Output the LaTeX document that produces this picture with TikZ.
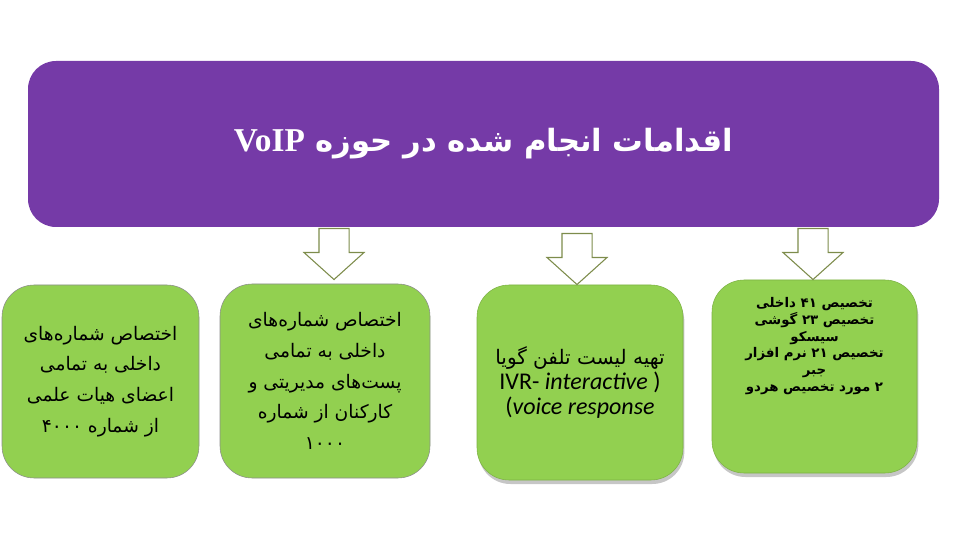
\documentclass[tikz,border=0pt]{standalone}
\usepackage{fontspec}
\setmainfont{Carlito}
\newfontfamily\arabicfont[Script=Arabic]{DejaVu Sans}
\newfontfamily\titlelatin{Liberation Serif}
\TeXXeTstate=1
\usetikzlibrary{shapes.arrows, shadows, positioning}
\definecolor{voippurple}{RGB}{117,58,167}
\definecolor{taskgreen}{RGB}{146,208,80}
\definecolor{arrowline}{RGB}{125,140,75}
\tikzstyle{heading} = [rectangle, rounded corners=21pt, minimum width=683.25pt, minimum height=124.5pt, fill=voippurple, text=white]
\tikzstyle{task} = [rectangle, rounded corners=24pt, fill=taskgreen, draw=gray!90, thin, align=center, inner sep=0pt]
\tikzstyle{shadowtask} = [task, draw=taskgreen!85!black, drop shadow={shadow xshift=1pt, shadow yshift=-3pt, opacity=0.45}]
\tikzstyle{blockarrow} = [single arrow, draw=arrowline, fill=white, thick, inner xsep=10.875pt, inner ysep=0pt, shape border rotate=270, minimum height=38.25pt, single arrow head extend=11.25pt, single arrow tip angle=96, single arrow head indent=0pt]

\begin{document}
\begin{tikzpicture}[x=0.75pt, y=-0.75pt]
        \useasboundingbox (0,0) rectangle (960,538);
        \node (title) [heading] at (483.5,144) {\arabicfont\bfseries\fontsize{23}{28}\selectfont\beginR اقدامات انجام شده در حوزه {\titlelatin\bfseries\fontsize{25}{28}\selectfont VoIP}\endR};

        \node (members) [task, minimum width=147.75pt, minimum height=144.75pt, font=\arabicfont\fontsize{14}{23}\selectfont] at (100.5,381.5)
            {\beginR اختصاص شماره‌های\endR\\ \beginR داخلی به تمامی\endR\\ \beginR اعضای هیات علمی\endR\\ \beginR از شماره \beginL ۴۰۰۰\endL\endR};
        \node (staff) [task, minimum width=157.5pt, minimum height=145.5pt, font=\arabicfont\fontsize{14}{23}\selectfont] at (325,381)
            {\beginR اختصاص شماره‌های\endR\\ \beginR داخلی به تمامی\endR\\ \beginR پست‌های مدیریتی و\endR\\ \beginR کارکنان از شماره\endR\\ \beginR\beginL ۱۰۰۰\endL\endR};
        \node (ivr) [shadowtask, minimum width=154.5pt, minimum height=146.25pt, font=\fontsize{18}{19}\selectfont] at (580,382.5)
            {{\arabicfont\fontsize{15}{19}\selectfont\beginR تهیه لیست تلفن گویا\endR}\\ IVR- \textit{interactive} )\\ (\textit{voice response}};
        \node (cisco) [shadowtask, minimum width=153.75pt, minimum height=144.75pt] at (814.5,376.5) {};
        \node (ciscotext) [align=center, font=\arabicfont\bfseries\fontsize{10}{12.5}\selectfont, below=10pt of cisco.north]
            {\beginR تخصیص \beginL ۴۱\endL{} داخلی\endR\\ \beginR تخصیص \beginL ۲۳\endL{} گوشی\endR\\ \beginR سیسکو\endR\\ \beginR تخصیص \beginL ۲۱\endL{} نرم افزار\endR\\ \beginR جبر\endR\\ \beginR ۲ مورد تخصیص هردو\endR};

        \node (arrowa) [blockarrow, anchor=tail] at (334,228) {};
        \node (arrowb) [blockarrow, anchor=tail] at (577,233) {};
        \node (arrowc) [blockarrow, anchor=tail] at (813,228) {};
\end{tikzpicture}
\end{document}
